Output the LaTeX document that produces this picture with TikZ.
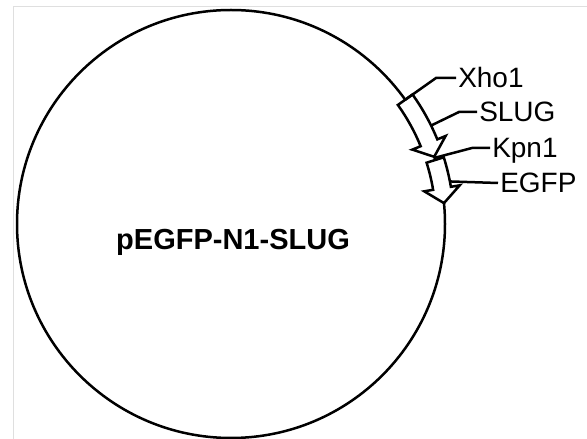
\documentclass[tikz,border=0pt]{standalone}
\usepackage{fontspec}
\setmainfont{Liberation Sans}
\usetikzlibrary{calc}

\begin{document}
\begin{tikzpicture}[x=1pt, y=1pt, line width=2.5pt,
    gene/.style={draw, fill=white, line join=miter},
    leader/.style={draw},
    site/.style={anchor=base west, inner sep=1pt, font=\fontsize{28}{33}\selectfont}]
  \useasboundingbox (0,0) rectangle (587,439);
  \draw[gray!25, line width=1pt] (13,0) -- (13,432) -- (587,432);
  \coordinate (C) at (231,215);
  \node (plasmid) at (C) [circle, draw, minimum size=428pt, inner sep=0, outer sep=0] {};
  \node (name) at (233,189) [anchor=base, font=\fontsize{29}{34}\selectfont\bfseries] {pEGFP-N1-SLUG};
  % SLUG
  \draw[gene] ($(C)+(35.5:223pt)$) arc[start angle=35.5, end angle=22.3, radius=223pt]
    -- ($(C)+(22.3:232pt)$) -- ($(C)+(18.3:214pt)$) -- ($(C)+(22.3:196pt)$)
    -- ($(C)+(22.3:205pt)$) arc[start angle=22.3, end angle=35.5, radius=205pt] -- cycle;
  % EGFP
  \draw[gene] ($(C)+(17.4:223pt)$) arc[start angle=17.4, end angle=9.6, radius=223pt]
    -- ($(C)+(9.6:232pt)$) -- ($(C)+(5.6:214pt)$) -- ($(C)+(9.6:196pt)$)
    -- ($(C)+(9.6:205pt)$) arc[start angle=9.6, end angle=17.4, radius=205pt] -- cycle;
  \coordinate (xho) at ($(C)+(35.5:214pt)$);
  \coordinate (slug) at ($(C)+(26.2:223pt)$);
  \coordinate (kpn) at ($(C)+(18:214pt)$);
  \coordinate (egfp) at ($(C)+(11:223pt)$);
  \node (lxho) at (456,351) [site] {Xho1};
  \node (lslug) at (477,317) [site] {SLUG};
  \node (lkpn) at (490,281) [site] {Kpn1};
  \node (legfp) at (498,246) [site] {EGFP};
  \draw[leader] (xho) -- ([xshift=-20pt, yshift=10pt]lxho.base west) -- ([yshift=10pt]lxho.base west);
  \draw[leader] (slug) -- ([xshift=-18pt, yshift=10pt]lslug.base west) -- ([yshift=10pt]lslug.base west);
  \draw[leader] (kpn) -- ([xshift=-18pt, yshift=10pt]lkpn.base west) -- ([yshift=10pt]lkpn.base west);
  \draw[leader] (egfp) -- ([yshift=10pt]legfp.base west);
\end{tikzpicture}
\end{document}
